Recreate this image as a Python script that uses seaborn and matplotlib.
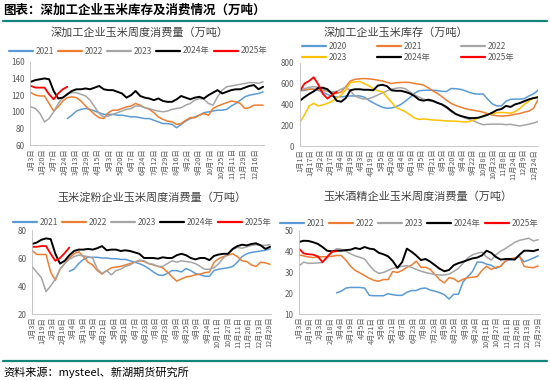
import numpy as np
import pandas as pd
import matplotlib
matplotlib.use("Agg")
import matplotlib.pyplot as plt
import seaborn as sns
from matplotlib.lines import Line2D

sns.set_style("white")
plt.rcParams["font.family"] = ["Noto Sans CJK SC", "DejaVu Sans"]
plt.rcParams["axes.unicode_minus"] = False

# ---------------- data ----------------
# Panel 1: 深加工企业玉米周度消费量
lab1 = ['1月3日', '1月20日', '2月7日', '2月24日', '3月13日', '3月29日', '4月15日', '5月3日',
        '5月20日', '6月7日', '6月24日', '7月12日', '7月29日', '8月16日', '9月2日', '9月20日',
        '10月7日', '10月25日', '11月11日', '11月29日', '12月16日']
c1_2021 = [92, 96, 101, 103, 104, 103, 101, 99, 97, 97, 97, 96, 96, 95, 94, 94, 93, 92, 92, 90, 88, 86,
           86, 85, 81, 85, 89, 92, 94, 96, 99, 100, 101, 102, 102, 103, 107, 110, 114, 118, 120, 121, 122, 124]
c1_2022 = [123, 120, 119, 119, 110, 101, 106, 113, 117, 118, 117, 113, 107, 102, 97, 93, 92, 99, 102, 102,
           104, 106, 107, 110, 108, 105, 103, 99, 94, 91, 89, 88, 85, 86, 90, 93, 93, 96, 98, 96, 104, 107,
           109, 111, 113, 112, 110, 104, 105, 108, 108, 108]
c1_2023 = [106, 104, 98, 88, 92, 100, 110, 117, 122, 123, 123, 121, 119, 114, 106, 98, 94, 95, 97, 99, 101,
           103, 104, 107, 107, 105, 104, 102, 101, 100, 101, 103, 104, 105, 108, 110, 114, 116, 115, 110, 108,
           118, 126, 130, 131, 132, 133, 134, 135, 135, 134, 136]
c1_2024 = [136, 138, 139, 140, 139, 125, 116, 117, 121, 125, 127, 127, 128, 127, 129, 131, 127, 126, 126, 124,
           122, 117, 120, 125, 119, 117, 116, 114, 116, 113, 112, 112, 115, 119, 117, 115, 117, 118, 116, 120,
           123, 126, 122, 124, 126, 127, 127, 129, 131, 132, 127, 130]
c1_2025 = [131, 129, 129, 129, 121, 115, 122, 127, 130]

# Panel 2: 深加工企业玉米库存
lab2 = ['1月1日', '1月17日', '2月2日', '2月17日', '3月4日', '3月19日', '4月3日', '4月19日', '5月5日',
        '5月20日', '6月4日', '6月19日', '7月5日', '7月21日', '8月5日', '8月20日', '9月4日', '9月22日',
        '10月8日', '10月23日', '11月8日', '11月24日', '12月9日', '12月24日']
s2_2020 = [530, 535, 545, 545, 535, 515, 495, 478, 470, 472, 478, 481, 481, 481, 470, 440, 415, 392, 372, 362,
           365, 378, 398, 430, 465, 505, 530, 535, 536, 536, 532, 525, 523, 552, 550, 545, 532, 515, 502, 498,
           500, 450, 405, 385, 385, 430, 448, 450, 450, 455, 480, 500, 535]
s2_2021 = [540, 540, 545, 545, 540, 535, 525, 515, 505, 520, 570, 625, 640, 645, 648, 645, 640, 632, 625, 612,
           600, 608, 610, 612, 610, 600, 595, 585, 560, 530, 505, 475, 440, 410, 390, 375, 360, 350, 342, 335,
           325, 310, 298, 290, 288, 290, 295, 305, 312, 325, 335, 360, 445]
s2_2022 = [540, 550, 565, 570, 565, 545, 530, 520, 525, 545, 565, 530, 480, 462, 450, 455, 470, 490, 510, 530,
           545, 555, 560, 550, 520, 490, 470, 450, 435, 428, 415, 395, 365, 330, 305, 290, 270, 255, 240, 220,
           205, 208, 210, 210, 210, 205, 208, 200, 192, 200, 210, 220, 235]
s2_2023 = [230, 300, 385, 410, 385, 395, 410, 430, 460, 490, 540, 610, 615, 620, 600, 580, 550, 530, 520, 470,
           420, 370, 350, 330, 300, 270, 255, 260, 255, 250, 248, 245, 240, 240, 238, 235, 230, 235, 250, 270,
           290, 305, 310, 320, 322, 320, 315, 330, 360, 400, 430, 460, 470]
s2_2024 = [435, 470, 500, 525, 558, 560, 545, 500, 435, 425, 460, 535, 545, 545, 540, 540, 535, 580, 588, 575,
           535, 530, 530, 520, 505, 480, 445, 435, 445, 435, 415, 400, 375, 340, 308, 290, 278, 268, 268, 272,
           285, 300, 320, 345, 355, 385, 375, 400, 412, 430, 448, 460, 468]
s2_2025 = [530, 600, 625, 660, 590, 500, 455, 490, 520]

# Panel 3 / 4 shared tick labels
lab34 = ['1月3日', '1月19日', '2月3日', '2月18日', '3月4日', '3月19日', '4月5日', '4月21日', '5月6日',
         '5月21日', '6月7日', '6月23日', '7月8日', '7月23日', '8月9日', '8月25日', '9月9日', '9月24日',
         '10月11日', '10月27日', '11月11日', '11月26日', '12月13日', '12月29日']

# Panel 3: 玉米淀粉企业玉米周度消费量
c3_2021 = [50.5, 52, 56, 59, 60.5, 60.5, 60.5, 60, 60, 59.5, 59.5, 59, 59, 58, 57, 56, 54.5, 52.5, 50, 48,
           47.5, 49, 51, 51, 50, 52.5, 51, 49, 48, 47, 47, 51, 52, 52.5, 53, 54, 57, 61, 63, 64, 64.5, 65,
           65.5, 66.5]
c3_2022 = [65.5, 62.5, 62.5, 62.5, 50, 44, 52, 56, 60, 63, 64.5, 61, 57, 55, 51, 48.5, 51, 53, 53.5, 54, 55,
           56, 57, 58, 57.5, 56, 55, 54, 53, 50, 46.5, 43.5, 45, 46.5, 47, 48, 48.5, 49.5, 50, 57, 59.5, 61,
           62, 63, 61, 58, 57.5, 55, 54, 57, 56.5, 55.5]
c3_2023 = [54, 50, 46, 36, 40, 45, 52, 56, 59, 61, 62, 61.5, 61, 60, 52, 49, 51, 48, 51, 52, 54, 55, 57, 58.5,
           58, 56, 55.5, 54, 54, 56, 58, 57, 58, 57.5, 57, 56, 54, 52, 52, 53, 56, 60, 63, 66, 67.5, 67, 68,
           69, 69.5, 69, 69, 69.5]
c3_2024 = [70, 71, 73, 74, 73.5, 63, 56, 58, 62, 65, 66, 66, 66.5, 66, 67, 68.5, 65.5, 66, 66, 65, 65.5, 65,
           64, 63, 60, 60, 60, 59.5, 60.5, 60, 60, 62, 63, 62, 60, 59, 60, 60, 58.5, 61.5, 62.5, 63, 63, 66.5,
           68.5, 69.5, 69, 70, 70.5, 69, 66.5, 68]
c3_2025 = [68, 68, 68.5, 68.5, 63, 58, 60, 63.5, 67.5]

# Panel 4: 玉米酒精企业玉米周度消费量
c4_2021 = [20.2, 21, 22.5, 22.8, 22.8, 22.8, 22.5, 19, 18.8, 18.8, 18.8, 19.8, 19.3, 19, 19, 20.5, 21.3,
           21.3, 22.3, 22.5, 21.5, 21, 20.3, 19.3, 17.2, 19.5, 19.5, 25.5, 28, 30.5, 35, 35, 34, 33.5, 32, 33,
           35.5, 36, 36.5, 37.8, 35.2, 36, 37, 38]
c4_2022 = [38.5, 38, 37.5, 37.2, 37.4, 37.6, 37.6, 37.8, 38.2, 38.2, 36, 33, 31, 29.8, 28.5, 27.2, 26.2,
           25.8, 26.6, 26.6, 30.5, 30, 31, 32.5, 33.5, 35.5, 32.5, 32.5, 31.5, 29, 26.5, 25, 27.5, 27, 25.5,
           26.8, 27.5, 27.7, 28, 31, 33, 31.5, 32.5, 33, 35.5, 36.5, 37, 38, 33, 32.5, 32.3, 33.2]
c4_2023 = [33.2, 35, 34.4, 34.5, 34.6, 34.8, 37, 39.5, 41.5, 41.2, 40.2, 39, 38, 37.3, 36.5, 33.5, 31, 29.6,
           30, 31, 32, 32.5, 33, 33.3, 32.5, 31.5, 30.6, 30, 29.5, 29, 28.8, 28.8, 29.2, 30.5, 32, 34.5, 37,
           38.5, 39.3, 39.8, 37.5, 36, 38.5, 40.3, 41.5, 43, 44.5, 45.5, 46, 46.5, 45.2, 45.8]
c4_2024 = [44.7, 45.3, 45.2, 44.6, 43.8, 42.3, 40.5, 40.2, 40.5, 40.5, 40.8, 41, 41.8, 41.3, 42.3, 41.5,
           41.2, 39.5, 38.8, 37.8, 35.5, 32.2, 35, 41.5, 40, 38.2, 36, 36.5, 35.2, 33.5, 31.8, 30.6, 31.2,
           33.5, 34.5, 35.2, 36, 36.8, 37.2, 38.2, 40.5, 39.5, 37.5, 36.2, 36.5, 36.5, 36.2, 38.5, 40.5, 40.5,
           40.3, 41]
c4_2025 = [41.5, 39.2, 38.8, 38.6, 37.8, 35, 37.5, 40, 40.3]

# ---------------- styling ----------------
BLUE, ORANGE, GRAY, YELLOW, BLACK, RED = "#5B9BD5", "#ED7D31", "#A5A5A5", "#FFC000", "#000000", "#FF0000"
TEAL = "#13857B"
TXT = "#595959"

W, H = 550, 380
fig = plt.figure(figsize=(W / 100, H / 100), dpi=100)
fig.patch.set_facecolor("white")


def px_axes(l, r, t, b):
    return fig.add_axes([l / W, 1 - b / H, (r - l) / W, (b - t) / H])


def draw(ax, series, ylim, yticks, labels, lab_last, xlim, ncat):
    handles = []
    for name, vals, start, color, lw in series:
        df = pd.DataFrame({"x": np.arange(start, start + len(vals)), "y": vals})
        sns.lineplot(data=df, x="x", y="y", ax=ax, color=color, linewidth=lw,
                     errorbar=None, legend=False)
        ln = ax.lines[-1]
        ln.set_solid_joinstyle("round")
        handles.append(Line2D([0], [0], color=color, lw=1.6, label=name))
    ax.set_xlim(*xlim)
    ax.set_ylim(*ylim)
    ax.set_yticks(yticks)
    ax.set_yticklabels([str(v) for v in yticks], fontsize=5.8, color=TXT)
    ax.set_xticks(np.linspace(0, lab_last, len(labels)))
    ax.set_xticklabels(labels, rotation=90, fontsize=5.2, color=TXT)
    ax.set_xticks(np.arange(0, ncat), minor=True)
    ax.tick_params(axis="x", which="major", length=0, pad=2)
    ax.tick_params(axis="x", which="minor", length=2, color="#BFBFBF", width=0.5)
    ax.tick_params(axis="y", which="major", length=2, color="#BFBFBF", width=0.5, pad=2)
    ax.set_xlabel("")
    ax.set_ylabel("")
    for s in ["top", "right"]:
        ax.spines[s].set_visible(False)
    for s in ["left", "bottom"]:
        ax.spines[s].set_color("#BFBFBF")
        ax.spines[s].set_linewidth(0.6)
    ax.grid(False)
    ax.set_facecolor("white")
    return handles


# Panel 1
ax1 = px_axes(30, 264, 61.7, 145.3)
h1 = draw(ax1, [("2021", c1_2021, 8, BLUE, 1.1), ("2022", c1_2022, 0, ORANGE, 1.1),
                ("2023", c1_2023, 0, GRAY, 1.1), ("2024年", c1_2024, 0, BLACK, 1.4),
                ("2025年", c1_2025, 0, RED, 1.3)],
          (60, 160), [60, 80, 100, 120, 140, 160], lab1, 49.2, (-0.2, 51.2), 52)
ax1.legend(handles=h1, loc="center", bbox_to_anchor=(138 / W, 1 - 51 / H),
           bbox_transform=fig.transFigure, ncol=5, frameon=False, fontsize=6,
           handlelength=2.9, handletextpad=0.3, columnspacing=0.5, labelcolor=TXT)

# Panel 2
ax2 = px_axes(300, 538, 62.7, 146)
h2 = draw(ax2, [("2020", s2_2020, 0, BLUE, 1.1), ("2021", s2_2021, 0, ORANGE, 1.1),
                ("2022", s2_2022, 0, GRAY, 1.1), ("2023", s2_2023, 0, YELLOW, 1.1),
                ("2024年", s2_2024, 0, BLACK, 1.4), ("2025年", s2_2025, 0, RED, 1.3)],
          (0, 800), [0, 200, 400, 600, 800], lab2, 51.1, (0, 52), 53)
order = [0, 3, 1, 4, 2, 5]
ax2.legend(handles=[h2[i] for i in order], loc="center", bbox_to_anchor=(408 / W, 1 - 52 / H),
           bbox_transform=fig.transFigure, ncol=3, frameon=False, fontsize=6,
           handlelength=2.9, handletextpad=0.3, columnspacing=3.6, labelcolor=TXT,
           labelspacing=0.25)

# Panel 3
ax3 = px_axes(32, 271, 230, 314)
h3 = draw(ax3, [("2021", c3_2021, 8, BLUE, 1.1), ("2022", c3_2022, 0, ORANGE, 1.1),
                ("2023", c3_2023, 0, GRAY, 1.1), ("2024年", c3_2024, 0, BLACK, 1.4),
                ("2025年", c3_2025, 0, RED, 1.3)],
          (20, 80), [20, 40, 60, 80], lab34, 50.8, (0, 51.2), 52)
ax3.legend(handles=h3, loc="center", bbox_to_anchor=(142 / W, 1 - 222 / H),
           bbox_transform=fig.transFigure, ncol=5, frameon=False, fontsize=6,
           handlelength=2.9, handletextpad=0.3, columnspacing=0.5, labelcolor=TXT)

# Panel 4
ax4 = px_axes(299, 540, 231, 314)
h4 = draw(ax4, [("2021", c4_2021, 8, BLUE, 1.1), ("2022", c4_2022, 0, ORANGE, 1.1),
                ("2023", c4_2023, 0, GRAY, 1.1), ("2024年", c4_2024, 0, BLACK, 1.4),
                ("2025年", c4_2025, 0, RED, 1.3)],
          (10, 50), [10, 20, 30, 40, 50], lab34, 51, (0, 51.4), 52)
ax4.legend(handles=h4, loc="center", bbox_to_anchor=(409 / W, 1 - 223 / H),
           bbox_transform=fig.transFigure, ncol=5, frameon=False, fontsize=6,
           handlelength=2.9, handletextpad=0.3, columnspacing=0.5, labelcolor=TXT)

# Titles
fig.text(140 / W, 1 - 32 / H, "深加工企业玉米周度消费量（万吨）", ha="center", va="center",
         fontsize=8, color="#404040")
fig.text(396 / W, 1 - 32 / H, "深加工企业玉米库存（万吨）", ha="center", va="center",
         fontsize=8, color="#404040")
fig.text(152 / W, 1 - 197 / H, "玉米淀粉企业玉米周度消费量（万吨）", ha="center", va="center",
         fontsize=8, color="#404040")
fig.text(418 / W, 1 - 197 / H, "玉米酒精企业玉米周度消费量（万吨）", ha="center", va="center",
         fontsize=8, color="#404040")

# Header / footer
fig.text(3 / W, 1 - 10 / H, "图表：深加工企业玉米库存及消费情况（万吨）", ha="left", va="center",
         fontsize=9, fontweight="bold", color="black")
fig.add_artist(Line2D([3 / W, 547 / W], [1 - 21 / H] * 2, color=TEAL, lw=1.6,
                      transform=fig.transFigure))
fig.add_artist(Line2D([3 / W, 547 / W], [1 - 361 / H] * 2, color=TEAL, lw=1.6,
                      transform=fig.transFigure))
fig.text(3 / W, 1 - 372 / H, "资料来源：mysteel、新湖期货研究所", ha="left", va="center",
         fontsize=8, color="black")

fig.savefig("out.png", dpi=100, facecolor="white")
